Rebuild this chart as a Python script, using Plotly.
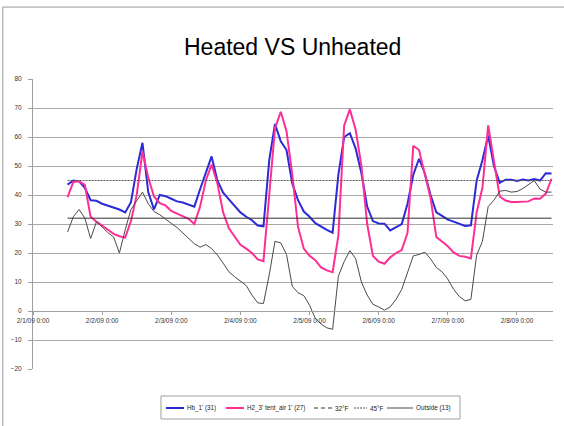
import pandas as pd
import plotly.graph_objects as go

# readings every 2 hours, 2/1/09 12:00 -> 2/8/09 12:00
times = pd.date_range("2009-02-01 12:00", periods=85, freq="2h")

hb_1 = [43.6, 45.0, 44.7, 42.5, 38.2, 38.0, 37.0, 36.4, 35.6, 35.0,
        34.0, 37.5, 49.0, 58.0, 41.0, 35.0, 40.0, 39.6, 38.7, 37.8,
        37.4, 36.6, 36.0, 42.0, 47.5, 53.3, 45.0, 40.8, 38.5, 36.2,
        34.0, 32.5, 31.3, 29.5, 29.2, 52.0, 64.5, 58.5, 55.5, 44.0,
        38.2, 34.3, 32.5, 30.3, 29.0, 28.0, 27.0, 47.0, 60.0, 61.3,
        56.0, 47.5, 36.0, 31.0, 30.2, 30.1, 27.8, 29.0, 30.0, 37.0,
        47.0, 52.5, 47.5, 40.0, 34.0, 32.8, 31.5, 30.8, 30.1, 29.3,
        29.5, 45.0, 52.0, 60.5, 50.0, 44.2, 45.3, 45.3, 44.8, 45.3,
        45.0, 45.5, 45.0, 47.5, 47.4]

h2_tent = [39.3, 44.5, 44.7, 43.5, 32.5, 30.8, 29.5, 28.0, 26.6, 25.8,
           25.3, 31.0, 40.0, 55.0, 46.0, 39.5, 37.2, 36.4, 34.5, 33.6,
           32.6, 31.8, 30.0, 36.0, 45.0, 50.5, 44.0, 34.0, 28.5, 25.5,
           22.8, 21.5, 20.0, 17.8, 17.2, 40.0, 63.0, 68.7, 62.0, 47.0,
           29.0, 21.5, 19.0, 17.5, 15.0, 14.0, 13.4, 26.0, 64.0, 69.5,
           62.5, 50.0, 30.0, 19.0, 17.0, 16.3, 18.5, 20.0, 21.0, 27.0,
           57.0, 55.5, 47.0, 39.0, 25.5, 24.0, 22.3, 20.2, 19.0, 18.7,
           18.1, 34.0, 42.5, 64.0, 51.0, 39.5, 38.1, 37.6, 37.6, 37.6,
           37.8, 38.8, 38.7, 40.5, 45.6]

outside = [27.2, 32.5, 35.0, 32.0, 25.0, 30.7, 29.0, 27.0, 25.5, 20.0,
           28.0, 35.0, 38.0, 41.0, 37.0, 34.3, 33.2, 31.6, 30.2, 28.8,
           27.0, 25.0, 23.2, 22.0, 22.9, 21.5, 19.3, 16.5, 13.5, 11.8,
           10.4, 8.8, 5.5, 2.8, 2.6, 12.5, 24.0, 23.5, 19.5, 8.5,
           6.3, 5.3, 2.0, -2.6, -4.5, -5.8, -6.3, 12.0, 17.0, 20.8,
           18.0, 10.0, 5.5, 2.3, 1.4, 0.3, 1.4, 4.0, 7.5, 13.0,
           19.0, 19.5, 20.3, 18.0, 15.0, 13.5, 11.0, 7.5, 5.0, 3.5,
           4.0, 19.3, 24.0, 36.0, 38.2, 41.3, 41.6, 41.0, 41.2, 42.2,
           43.5, 45.0, 42.0, 41.0, 41.0]

freeze_f = 32
target_f = 45

day_ticks = pd.date_range("2009-02-01", periods=8, freq="D")
day_labels = ["2/1/09 0:00", "2/2/09 0:00", "2/3/09 0:00", "2/4/09 0:00",
              "2/5/09 0:00", "2/6/09 0:00", "2/7/09 0:00", "2/8/09 0:00"]

FONT = "Liberation Sans, Arial, sans-serif"
BLUE = "#2a2ad8"
PINK = "#ff2e95"
GREY = "#4a4a4a"
DOTTED = "#555555"

fig = go.Figure()

fig.add_trace(go.Scatter(x=times, y=hb_1, mode="lines", name="Hb_1' (31)",
                         line=dict(color=BLUE, width=2)))
fig.add_trace(go.Scatter(x=times, y=h2_tent, mode="lines", name="H2_3' tent_air 1' (27)",
                         line=dict(color=PINK, width=2)))
fig.add_trace(go.Scatter(x=[times[0], times[-1]], y=[target_f, target_f], mode="lines",
                         name="45°F", line=dict(color=DOTTED, width=1, dash="2px,1px")))
fig.add_trace(go.Scatter(x=times, y=outside, mode="lines", name="Outside (13)",
                         line=dict(color=GREY, width=1)))
fig.add_trace(go.Scatter(x=[times[0], times[-1]], y=[freeze_f, freeze_f], mode="lines",
                         name="32°F", line=dict(color="#333333", width=1)))

fig.update_layout(
    width=564, height=426,
    margin=dict(l=33, r=11, t=79, b=57),
    paper_bgcolor="white", plot_bgcolor="white",
    font=dict(family=FONT, size=7, color="#333333"),
    showlegend=False,
    xaxis=dict(
        range=["2009-02-01 00:00", "2009-02-08 12:30"],
        tickvals=day_ticks, ticktext=day_labels,
        anchor="free", position=0.2, automargin=False,
        showgrid=False, zeroline=False,
        showline=True, linecolor="#a0a0a0", linewidth=1,
        ticks="outside", ticklen=3, tickcolor="#a0a0a0",
        tickfont=dict(size=6.5, color="#333333"),
    ),
    yaxis=dict(
        range=[-20, 80], dtick=10, automargin=False,
        showgrid=True, gridcolor="#a8a8a8", gridwidth=1,
        zeroline=False,
        showline=True, linecolor="#a0a0a0", linewidth=1,
        ticks="outside", ticklen=4, tickcolor="#a0a0a0",
        ticklabelstandoff=5,
        tickfont=dict(size=6.5, color="#333333"),
    ),
)

# title, as a box that hides the middle of the top gridline
fig.add_shape(type="rect", xref="paper", yref="y", x0=0.106, x1=0.863, y0=79.2, y1=81,
              line=dict(width=0), fillcolor="white", layer="above")
fig.add_annotation(text="Heated VS Unheated", xref="paper", yref="paper",
                   x=(292 - 33) / 520, y=(369 - 47) / 290, showarrow=False,
                   xanchor="center", yanchor="middle",
                   font=dict(family=FONT, size=23, color="black"))

# chart border
fig.add_shape(type="rect", xref="paper", yref="paper", x0=-0.058, x1=1.2, y0=-0.3, y1=1.248,
              line=dict(color="#9a9a9a", width=1), fillcolor="rgba(0,0,0,0)", layer="below")


# legend drawn by hand (Excel style box under the plot)
def px(x):
    return (x - 33) / 520


def py(y):
    return (369 - y) / 290


fig.add_shape(type="rect", xref="paper", yref="paper",
              x0=px(161), x1=px(460), y0=py(419), y1=py(396),
              line=dict(color="#a0a0a0", width=1), fillcolor="white")

legend_items = [
    ("Hb_1' (31)", BLUE, 2, "solid", 166, 184, 185),
    ("H2_3' tent_air 1' (27)", PINK, 2, "solid", 226, 244, 245),
    ("32°F", "#333333", 1, "4px,3px", 314, 332, 333),
    ("45°F", DOTTED, 1, "2px,1px", 354, 367, 368),
    ("Outside (13)", GREY, 1, "solid", 387, 413, 414),
]
for label, color, width, dash, x0, x1, xt in legend_items:
    fig.add_shape(type="line", xref="paper", yref="paper",
                  x0=px(x0), x1=px(x1), y0=py(408), y1=py(408),
                  line=dict(color=color, width=width, dash=dash))
    fig.add_annotation(text=label, xref="paper", yref="paper", x=px(xt), y=py(408),
                       showarrow=False, xanchor="left", yanchor="middle",
                       font=dict(family=FONT, size=6.3, color="#222222"))

# the page body has an 8px margin by default; drop it so the chart sits at 0,0
fig.write_html("out.html", config={"displayModeBar": False},
               post_script="document.body.style.margin='0';")
